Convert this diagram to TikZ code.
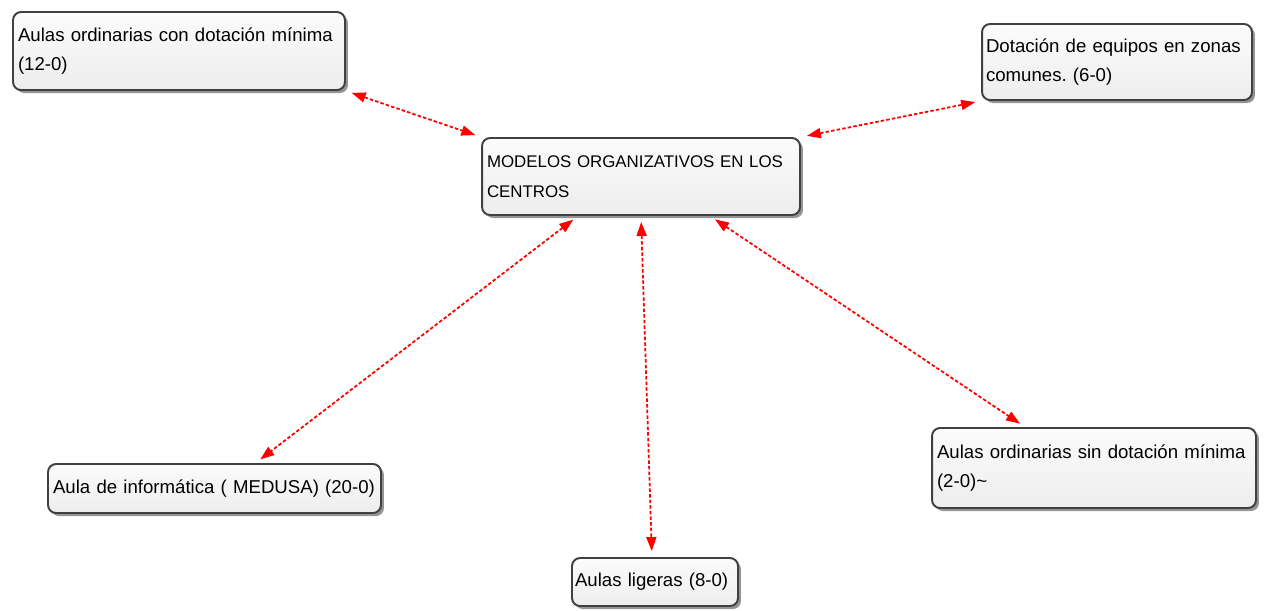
\documentclass[tikz,border=0pt]{standalone}
\usepackage{fontspec}
\setmainfont{Liberation Sans}
\usetikzlibrary{arrows.meta,shadows}
\frenchspacing

\begin{document}
\begin{tikzpicture}[x=0.02cm, y=-0.02cm,
  mapnode/.style={draw=black!75, line width=1.1pt, rounded corners=0.16cm,
    top color=gray!3, bottom color=gray!14,
    drop shadow={shadow xshift=0.06cm, shadow yshift=-0.06cm, fill=black!60, opacity=0.7},
    align=left, inner xsep=0.1cm, inner ysep=0pt, font=\fontsize{10.6}{17}\selectfont},
  link/.style={red, line width=1pt, dash pattern=on 2pt off 1.2pt,
    {Triangle[length=0.28cm,width=0.2cm]}-{Triangle[length=0.28cm,width=0.2cm]},
    shorten <=0.12cm, shorten >=0.12cm}]
			\useasboundingbox (0,0) rectangle (1264,610);

			\node[mapnode, text width=6.44cm, minimum height=1.56cm] at (179,51) (conmin) {Aulas ordinarias con dotación mínima\\(12-0)};
			\node[mapnode, text width=5.24cm, minimum height=1.52cm, inner xsep=0.08cm] at (1117,62) (zonas) {Dotación de equipos en zonas\\comunes. (6-0)};
			\node[mapnode, text width=6.16cm, minimum height=1.54cm, font=\fontsize{9.6}{17}\selectfont] at (641,176.5) (modelos) {MODELOS ORGANIZATIVOS EN LOS\\CENTROS};
			\node[mapnode, text width=6.28cm, minimum height=1.6cm] at (1094,468) (sinmin) {Aulas ordinarias sin dotación mínima\\(2-0)\textasciitilde};
			\node[mapnode, text width=6.46cm, minimum height=0.98cm] at (214.5,488.5) (medusa) {Aula de informática ( MEDUSA) (20-0)};
			\node[mapnode, text width=3.2cm, minimum height=0.96cm, inner xsep=0.06cm] at (655,582) (ligeras) {Aulas ligeras (8-0)};

			\path
			(conmin.south east) edge[link] (modelos.north west)
			(modelos.north east) edge[link] (zonas.south west)
			([xshift=-1.26cm]modelos.south) edge[link] ([xshift=0.82cm]medusa.north)
			(modelos.south) edge[link] ([xshift=-0.06cm]ligeras.north)
			([xshift=1.38cm]modelos.south) edge[link] ([xshift=-1.38cm]sinmin.north);
		\end{tikzpicture}
\end{document}
